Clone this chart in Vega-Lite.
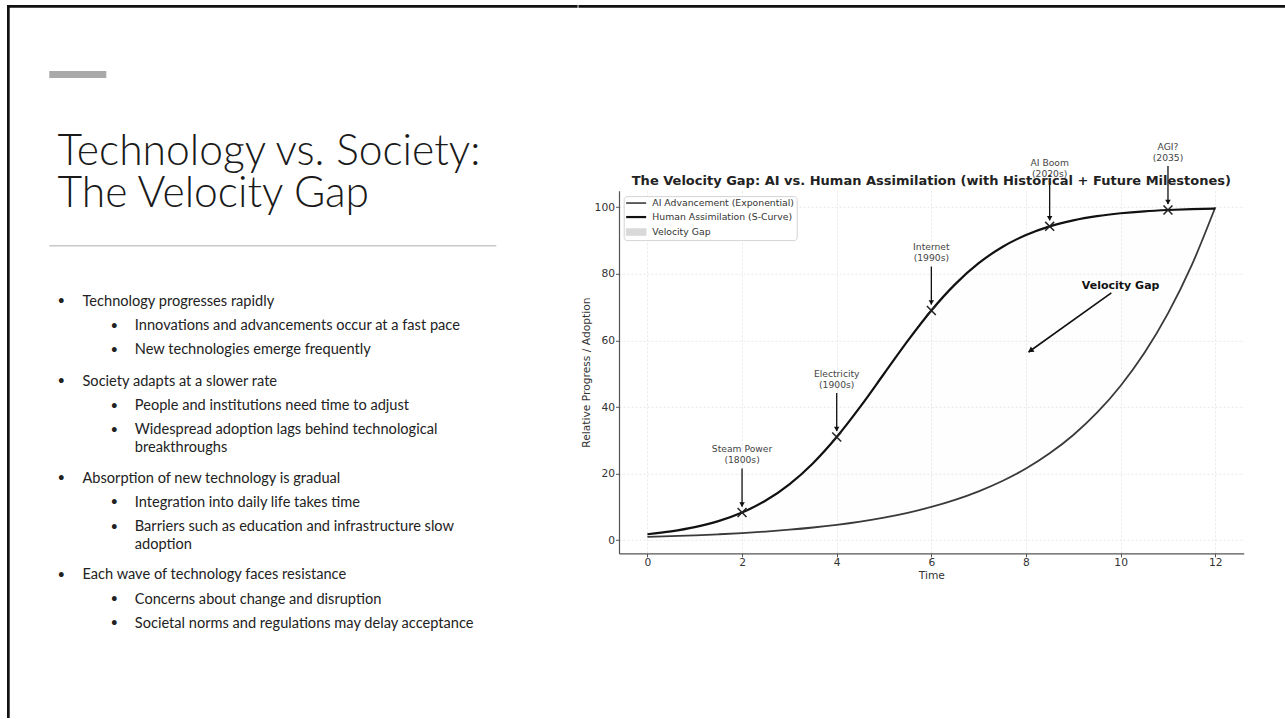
{
  "$schema": "https://vega.github.io/schema/vega-lite/v6.json",
  "background": "white",
  "padding": {"left": 7, "top": 5, "right": 0, "bottom": 0},
  "spacing": 0,
  "resolve": {"scale": {"color": "independent"}, "legend": {"color": "independent"}},
  "config": {"view": {"stroke": null}, "font": "DejaVu Sans"},
  "datasets": {
    "curves": [
      {"t": 0, "ai": 1.0, "human": 1.80},
      {"t": 0.5, "ai": 1.21, "human": 2.66},
      {"t": 1, "ai": 1.47, "human": 3.92},
      {"t": 1.5, "ai": 1.78, "human": 5.73},
      {"t": 2, "ai": 2.15, "human": 8.32},
      {"t": 2.5, "ai": 2.61, "human": 11.92},
      {"t": 3, "ai": 3.16, "human": 16.80},
      {"t": 3.5, "ai": 3.83, "human": 23.15},
      {"t": 4, "ai": 4.64, "human": 31.00},
      {"t": 4.5, "ai": 5.62, "human": 40.13},
      {"t": 5, "ai": 6.81, "human": 50.00},
      {"t": 5.5, "ai": 8.25, "human": 59.87},
      {"t": 6, "ai": 10.00, "human": 69.00},
      {"t": 6.5, "ai": 12.12, "human": 76.85},
      {"t": 7, "ai": 14.68, "human": 83.20},
      {"t": 7.5, "ai": 17.78, "human": 88.08},
      {"t": 8, "ai": 21.54, "human": 91.68},
      {"t": 8.5, "ai": 26.10, "human": 94.27},
      {"t": 9, "ai": 31.62, "human": 96.08},
      {"t": 9.5, "ai": 38.31, "human": 97.34},
      {"t": 10, "ai": 46.42, "human": 98.20},
      {"t": 10.5, "ai": 56.23, "human": 98.79},
      {"t": 11, "ai": 68.13, "human": 99.18},
      {"t": 11.5, "ai": 82.54, "human": 99.45},
      {"t": 12, "ai": 100.0, "human": 99.63}
    ],
    "milestones": [
      {"t": 2, "v": 8.32, "label": "Steam Power\n(1800s)"},
      {"t": 4, "v": 31.0, "label": "Electricity\n(1900s)"},
      {"t": 6, "v": 69.0, "label": "Internet\n(1990s)"},
      {"t": 8.5, "v": 94.27, "label": "AI Boom\n(2020s)"},
      {"t": 11, "v": 99.18, "label": "AGI?\n(2035)"}
    ],
    "gap": [
      {"x": 8, "y": 55, "tx": 10, "ty": 75, "label": "Velocity Gap"}
    ],
    "slideTitle": [
      {"text": "Technology vs. Society:\nThe Velocity Gap"}
    ],
    "bullets": [
      {"line": 1, "level": 1, "text": "Technology progresses rapidly"},
      {"line": 2, "level": 2, "text": "Innovations and advancements occur at a fast pace"},
      {"line": 3, "level": 2, "text": "New technologies emerge frequently"},
      {"line": 4.3, "level": 1, "text": "Society adapts at a slower rate"},
      {"line": 5.3, "level": 2, "text": "People and institutions need time to adjust"},
      {"line": 6.3, "level": 2, "text": "Widespread adoption lags behind technological\nbreakthroughs"},
      {"line": 8.3, "level": 1, "text": "Absorption of new technology is gradual"},
      {"line": 9.3, "level": 2, "text": "Integration into daily life takes time"},
      {"line": 10.3, "level": 2, "text": "Barriers such as education and infrastructure slow\nadoption"},
      {"line": 12.3, "level": 1, "text": "Each wave of technology faces resistance"},
      {"line": 13.3, "level": 2, "text": "Concerns about change and disruption"},
      {"line": 14.3, "level": 2, "text": "Societal norms and regulations may delay acceptance"}
    ],
    "one": [{"k": 1}]
  },
  "hconcat": [
    {
      "width": 570.6,
      "height": 713,
      "layer": [
        {
          "data": {"name": "one"},
          "mark": {"type": "rect", "color": "#111111"},
          "encoding": {
            "x": {"datum": 0, "type": "quantitative", "scale": {"domain": [0, 570.6], "nice": false, "zero": false}, "axis": null},
            "x2": {"datum": 2.7}
          }
        },
        {
          "data": {"name": "one"},
          "mark": {"type": "rect", "color": "#111111"},
          "encoding": {
            "y": {"datum": -11.231, "type": "quantitative", "scale": {"domain": [-11.231, 18.231], "nice": false, "zero": false, "reverse": true}, "axis": null},
            "y2": {"datum": -11.119}
          }
        },
        {
          "data": {"name": "one"},
          "mark": {"type": "rect", "color": "#a9a9a9"},
          "encoding": {
            "x": {"datum": 42.3, "type": "quantitative"},
            "x2": {"datum": 99.3},
            "y": {"datum": -8.504, "type": "quantitative"},
            "y2": {"datum": -8.215}
          }
        },
        {
          "data": {"name": "one"},
          "mark": {"type": "rule", "strokeWidth": 1.5, "color": "#c8c8c8"},
          "encoding": {
            "x": {"datum": 42.3, "type": "quantitative"},
            "x2": {"datum": 489.3},
            "y": {"datum": -1.285, "type": "quantitative"}
          }
        },
        {
          "data": {"name": "slideTitle"},
          "mark": {"type": "text", "font": "Lato", "fontWeight": 300, "fontSize": 42.6, "lineHeight": 42, "lineBreak": "\n", "align": "left", "baseline": "alphabetic", "color": "#1a1a1a"},
          "encoding": {
            "x": {"datum": 50.5, "type": "quantitative"},
            "y": {"datum": -4.62, "type": "quantitative"},
            "text": {"field": "text"}
          }
        },
        {
          "data": {"name": "bullets"},
          "transform": [{"filter": "datum.level === 1"}],
          "layer": [
            {
              "mark": {"type": "text", "font": "Lato", "fontSize": 14.6, "lineHeight": 17.7, "lineBreak": "\n", "align": "left", "baseline": "alphabetic", "dy": 5, "color": "#222222"},
              "encoding": {
                "x": {"datum": 75.5, "type": "quantitative"},
                "y": {"field": "line", "type": "quantitative"},
                "text": {"field": "text"}
              }
            },
            {
              "mark": {"type": "text", "font": "Lato", "fontSize": 13, "align": "center", "baseline": "alphabetic", "dy": 4.5, "color": "#222222", "text": "•"},
              "encoding": {
                "x": {"datum": 54.3, "type": "quantitative"},
                "y": {"field": "line", "type": "quantitative"}
              }
            }
          ]
        },
        {
          "data": {"name": "bullets"},
          "transform": [{"filter": "datum.level === 2"}],
          "layer": [
            {
              "mark": {"type": "text", "font": "Lato", "fontSize": 14.6, "lineHeight": 17.7, "lineBreak": "\n", "align": "left", "baseline": "alphabetic", "dy": 5, "color": "#222222"},
              "encoding": {
                "x": {"datum": 127.8, "type": "quantitative"},
                "y": {"field": "line", "type": "quantitative"},
                "text": {"field": "text"}
              }
            },
            {
              "mark": {"type": "text", "font": "Lato", "fontSize": 13, "align": "center", "baseline": "alphabetic", "dy": 4.5, "color": "#222222", "text": "•"},
              "encoding": {
                "x": {"datum": 107.3, "type": "quantitative"},
                "y": {"field": "line", "type": "quantitative"}
              }
            }
          ]
        }
      ]
    },
    {
      "spacing": 133.8,
      "resolve": {"scale": {"color": "independent"}, "legend": {"color": "independent"}},
      "vconcat": [
        {
          "width": 665,
          "height": 2.7,
          "data": {"name": "one"},
          "mark": {"type": "rect", "color": "#111111"},
          "encoding": {
            "x": {"datum": -40.5, "type": "quantitative", "scale": {"domain": [0, 665], "nice": false, "zero": false}, "axis": null},
            "x2": {"datum": 666}
          }
        },
        {
          "width": 624.7,
          "height": 362.6,
          "title": {
            "text": "The Velocity Gap: AI vs. Human Assimilation (with Historical + Future Milestones)",
            "font": "DejaVu Sans",
            "fontSize": 13,
            "fontWeight": "bold",
            "color": "#222222",
            "anchor": "middle",
            "frame": "group",
            "baseline": "alphabetic",
            "offset": -55.5
          },
          "layer": [
            {
              "data": {"name": "curves"},
              "mark": {"type": "area", "opacity": 0.02, "interpolate": "monotone"},
              "encoding": {
                "x": {
                  "field": "t", "type": "quantitative",
                  "scale": {"domain": [-0.6, 12.6], "nice": false, "zero": false},
                  "axis": {
                    "title": "Time", "values": [0, 2, 4, 6, 8, 10, 12],
                    "grid": true, "gridColor": "#e3e3e3", "gridDash": [2, 2], "gridWidth": 0.8,
                    "domainColor": "#555555", "domainWidth": 1.2, "tickColor": "#555555", "tickSize": 3.5,
                    "labelFont": "DejaVu Sans", "labelFontSize": 10.7, "labelColor": "#333333", "labelPadding": 1,
                    "titleFont": "DejaVu Sans", "titleFontSize": 10.7, "titleFontWeight": "normal", "titleColor": "#333333", "titlePadding": 3
                  }
                },
                "y": {
                  "field": "ai", "type": "quantitative",
                  "scale": {"domain": [-3.95, 104.95], "nice": false, "zero": false},
                  "axis": {
                    "title": "Relative Progress / Adoption", "values": [0, 20, 40, 60, 80, 100],
                    "grid": true, "gridColor": "#e3e3e3", "gridDash": [2, 2], "gridWidth": 0.8,
                    "domainColor": "#555555", "domainWidth": 1.2, "tickColor": "#555555", "tickSize": 3.5,
                    "labelFont": "DejaVu Sans", "labelFontSize": 10.7, "labelColor": "#333333", "labelPadding": 1,
                    "titleFont": "DejaVu Sans", "titleFontSize": 10.7, "titleFontWeight": "normal", "titleColor": "#333333", "titlePadding": 3
                  }
                },
                "y2": {"field": "human"},
                "color": {"datum": "Velocity Gap", "type": "nominal"}
              }
            },
            {
              "data": {"name": "curves"},
              "mark": {"type": "line", "strokeWidth": 1.8, "interpolate": "monotone"},
              "encoding": {
                "x": {"field": "t", "type": "quantitative"},
                "y": {"field": "ai", "type": "quantitative"},
                "color": {
                  "datum": "AI Advancement (Exponential)", "type": "nominal",
                  "scale": {
                    "domain": ["AI Advancement (Exponential)", "Human Assimilation (S-Curve)", "Velocity Gap"],
                    "range": ["#3a3a3a", "#111111", "#d9d9d9"]
                  },
                  "legend": {
                    "title": null,
                    "orient": "none",
                    "legendX": 4.7,
                    "legendY": 5.3,
                    "direction": "vertical",
                    "fillColor": "rgba(255,255,255,0.9)",
                    "strokeColor": "#d4d4d4",
                    "cornerRadius": 3,
                    "padding": 2.3,
                    "symbolSize": 100,
                    "rowPadding": 4,
                    "labelFont": "DejaVu Sans",
                    "labelFontSize": 9.3,
                    "labelColor": "#333333",
                    "labelOffset": 17,
                    "symbolType": "stroke",
                    "encode": {
                      "symbols": {
                        "update": {
                          "shape": {"signal": "datum.value === 'Velocity Gap' ? 'M-0.9,-0.7H3.1V0.7H-0.9Z' : 'M-0.9,0H3.1'"},
                          "fill": {"signal": "datum.value === 'Velocity Gap' ? '#dddddd' : 'transparent'"},
                          "stroke": {"signal": "datum.value === 'Velocity Gap' ? '#cccccc' : (datum.value === 'AI Advancement (Exponential)' ? '#3a3a3a' : '#111111')"},
                          "strokeWidth": {"signal": "datum.value === 'Human Assimilation (S-Curve)' ? 2.2 : (datum.value === 'Velocity Gap' ? 0.6 : 1.6)"},
                          "opacity": {"value": 1}
                        }
                      }
                    }
                  }
                }
              }
            },
            {
              "data": {"name": "curves"},
              "mark": {"type": "line", "strokeWidth": 2.2, "interpolate": "monotone"},
              "encoding": {
                "x": {"field": "t", "type": "quantitative"},
                "y": {"field": "human", "type": "quantitative"},
                "color": {"datum": "Human Assimilation (S-Curve)", "type": "nominal"}
              }
            },
            {
              "data": {"name": "milestones"},
              "mark": {"type": "point", "shape": "M-1,-1L1,1M-1,1L1,-1", "size": 80, "filled": false, "stroke": "#222222", "strokeWidth": 1.5, "opacity": 1},
              "encoding": {
                "x": {"field": "t", "type": "quantitative"},
                "y": {"field": "v", "type": "quantitative"}
              }
            },
            {
              "data": {"name": "milestones"},
              "mark": {"type": "rule", "strokeWidth": 1.3, "color": "#111111", "yOffset": -6, "y2Offset": -44},
              "encoding": {
                "x": {"field": "t", "type": "quantitative"},
                "y": {"field": "v", "type": "quantitative"},
                "y2": {"field": "v"}
              }
            },
            {
              "data": {"name": "milestones"},
              "mark": {"type": "point", "shape": "triangle-down", "size": 30, "filled": true, "color": "#111111", "opacity": 1, "yOffset": -8},
              "encoding": {
                "x": {"field": "t", "type": "quantitative"},
                "y": {"field": "v", "type": "quantitative"}
              }
            },
            {
              "data": {"name": "milestones"},
              "mark": {"type": "text", "font": "DejaVu Sans", "fontSize": 9.2, "lineHeight": 11, "lineBreak": "\n", "align": "center", "baseline": "bottom", "dy": -58.5, "color": "#444444"},
              "encoding": {
                "x": {"field": "t", "type": "quantitative"},
                "y": {"field": "v", "type": "quantitative"},
                "text": {"field": "label"}
              }
            },
            {
              "data": {"name": "gap"},
              "mark": {"type": "rule", "strokeWidth": 1.6, "color": "#111111", "xOffset": 2.6, "yOffset": -5.1, "x2Offset": -9.3, "y2Offset": 2.4},
              "encoding": {
                "x": {"field": "x", "type": "quantitative"},
                "y": {"field": "y", "type": "quantitative"},
                "x2": {"field": "tx"},
                "y2": {"field": "ty"}
              }
            },
            {
              "data": {"name": "gap"},
              "mark": {"type": "point", "shape": "triangle", "size": 40, "filled": true, "color": "#111111", "opacity": 1, "angle": 234.5, "xOffset": 5.2, "yOffset": -7.0},
              "encoding": {
                "x": {"field": "x", "type": "quantitative"},
                "y": {"field": "y", "type": "quantitative"}
              }
            },
            {
              "data": {"name": "gap"},
              "mark": {"type": "text", "font": "DejaVu Sans", "fontSize": 11, "fontWeight": "bold", "align": "center", "baseline": "bottom", "color": "#111111"},
              "encoding": {
                "x": {"field": "tx", "type": "quantitative"},
                "y": {"field": "ty", "type": "quantitative"},
                "text": {"field": "label"}
              }
            }
          ]
        }
      ]
    }
  ]
}
